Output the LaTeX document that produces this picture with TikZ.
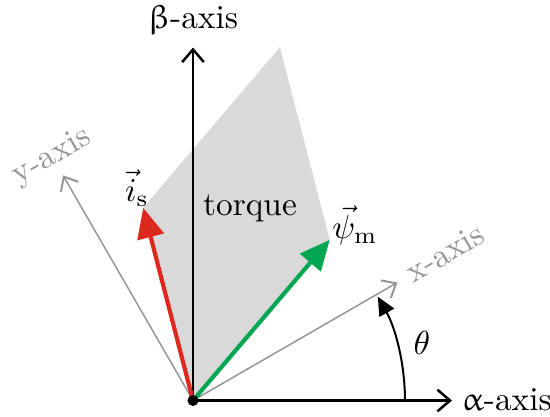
\documentclass[tikz,border=0pt]{standalone}
\usepackage{upgreek}
\usetikzlibrary{arrows.meta,calc}
\definecolor{fillgray}{RGB}{217,217,217}
\definecolor{axgray}{RGB}{150,150,150}
\definecolor{isred}{RGB}{220,40,30}
\definecolor{psigreen}{RGB}{0,166,81}
\begin{document}
\begin{tikzpicture}[x=0.3pt,y=0.3pt,
  axis/.style={line width=0.75pt,-{Straight Barb[length=3.8pt,width=6.5pt,line width=0.75pt]}},
  grayaxis/.style={axgray,line width=0.45pt,-{Straight Barb[length=3.5pt,width=6pt,line width=0.6pt]}},
  vec/.style={line width=1.25pt,-{Triangle[length=9pt,width=8pt]}},
  lbl/.style={inner sep=1pt},
  graylbl/.style={axgray,inner sep=1pt,rotate=30}]
\useasboundingbox (0,0) rectangle (550,416);
\coordinate (O) at (193,15.5);
\coordinate (I) at ($(O)+(104.5:199)$);
\coordinate (P) at ($(O)+(49.6:211)$);
\coordinate (T) at ($(I)+(P)-(O)$);
\coordinate (X) at ($(O)+(30:236)$);
\coordinate (Y) at ($(O)+(120:260)$);
\coordinate (A) at ($(O)+(259,0)$);
\coordinate (B) at ($(O)+(0,353)$);
\coordinate (R) at ($(O)+(212,0)$);
\fill[fillgray] (O) -- (I) -- (T) -- (P) -- cycle;
\draw[grayaxis] (O) -- (X);
\draw[grayaxis] (O) -- (Y);
\draw[axis] (O) -- (A);
\draw[axis] (O) -- (B);
\draw[line width=0.6pt,-{Triangle[length=5.5pt,width=5pt]}] (R) arc (0:29.3:212);
\draw[vec,isred] (O) -- (I);
\draw[vec,psigreen] (O) -- (P);
\fill (O) circle (5.5);
\node[lbl] (lb) at (193,396) {$\upbeta$-axis};
\node[lbl,anchor=west] (la) at (458,16) {$\upalpha$-axis};
\node[lbl] (li) at (137,228) {$\vec{i}_{\mathrm{s}}$};
\node[lbl] (lp) at (355,191) {$\vec{\psi}_{\mathrm{m}}$};
\node[lbl] (lt) at (250,208) {torque};
\node[lbl] (lth) at (422,73) {$\theta$};
\node[graylbl] (ly) at (52,259) {y-axis};
\node[graylbl] (lx) at (445,163) {x-axis};
\end{tikzpicture}
\end{document}
